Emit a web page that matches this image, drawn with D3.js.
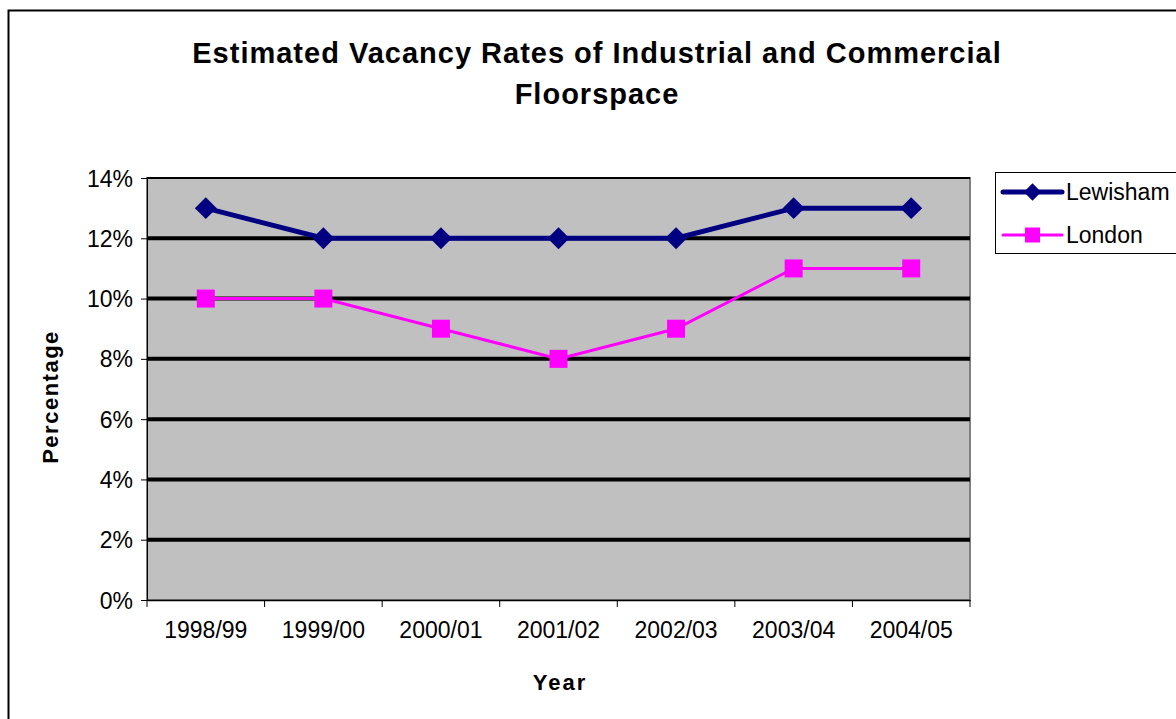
<!DOCTYPE html>
<html>
<head>
<meta charset="utf-8">
<script src="https://d3js.org/d3.v7.min.js"></script>
<style>
  body { margin: 0; background: #fff; }
  svg { display: block; font-family: "Liberation Sans", Arial, sans-serif; }
</style>
</head>
<body>
<script>
//Chart data.
var years = ["1998/99", "1999/00", "2000/01", "2001/02", "2002/03", "2003/04", "2004/05"];
var lewisham = [0.13, 0.12, 0.12, 0.12, 0.12, 0.13, 0.13];
var london = [0.10, 0.10, 0.09, 0.08, 0.09, 0.11, 0.11];
var yTicks = [0, 0.02, 0.04, 0.06, 0.08, 0.10, 0.12, 0.14];
var seriesNames = ["Lewisham", "London"];

var width = 1176, height = 719;
var svg = d3.select("body").append("svg").attr("width", width).attr("height", height);

//Outer chart border (runs off the right and bottom edges).
svg.append("rect").attr("x", 8.5).attr("y", 10.5).attr("width", 1190).attr("height", 730)
   .attr("fill", "#fff").attr("stroke", "#000").attr("stroke-width", 2);

//Plot area.
var plotLeft = 147, plotRight = 970, plotTop = 178, plotBottom = 600;
var x = d3.scaleBand().domain(years).range([plotLeft, plotRight]);
var y = d3.scaleLinear().domain([0, 0.14]).range([plotBottom, plotTop]);

svg.append("rect").attr("x", plotLeft).attr("y", plotTop)
   .attr("width", plotRight - plotLeft).attr("height", plotBottom - plotTop)
   .attr("fill", "#c0c0c0").attr("stroke", "#808080").attr("stroke-width", 2);

//Gridlines.
svg.selectAll(".grid").data(yTicks.filter(function(d) { return d > 0; })).enter()
   .append("line").attr("class", "grid")
   .attr("x1", plotLeft).attr("x2", plotRight)
   .attr("y1", function(d) { return y(d); }).attr("y2", function(d) { return y(d); })
   .attr("stroke", "#000").attr("stroke-width", function(d) { return d === 0.14 ? 2 : 4; });

//Axes.
var yAxis = d3.axisLeft(y).tickValues(yTicks).tickFormat(d3.format(".0%")).tickSize(6).tickPadding(8);
var gy = svg.append("g").attr("transform", "translate(" + plotLeft + ",0)").call(yAxis);
gy.select(".domain").attr("stroke", "#000");
gy.selectAll("text").attr("font-size", 23).attr("fill", "#000").attr("dy", "0.35em");

var xAxis = d3.axisBottom(x).tickSize(0).tickPadding(22);
var gx = svg.append("g").attr("transform", "translate(0," + plotBottom + ")").call(xAxis);
gx.select(".domain").attr("stroke", "#000").attr("stroke-width", 1.5);
gx.selectAll("text").attr("font-size", 23).attr("fill", "#000");

//Tick marks between categories.
var boundaries = years.map(function(d) { return x(d); }).concat([plotRight]);
svg.selectAll(".xtick").data(boundaries).enter().append("line")
   .attr("x1", function(d) { return d; }).attr("x2", function(d) { return d; })
   .attr("y1", plotBottom).attr("y2", plotBottom + 7).attr("stroke", "#000");

//Axis titles.
svg.append("text").attr("x", 560).attr("y", 690).attr("text-anchor", "middle")
   .attr("font-size", 22).attr("font-weight", "bold").attr("letter-spacing", 2).text("Year");
svg.append("text").attr("transform", "translate(58,397) rotate(-90)").attr("text-anchor", "middle")
   .attr("font-size", 22).attr("font-weight", "bold").attr("letter-spacing", 1.5).text("Percentage");

//Title.
var title = svg.append("text").attr("text-anchor", "middle").attr("font-size", 29)
   .attr("font-weight", "bold").attr("letter-spacing", 1);
title.append("tspan").attr("x", 597).attr("y", 63).text("Estimated Vacancy Rates of Industrial and Commercial");
title.append("tspan").attr("x", 597).attr("y", 104).text("Floorspace");

//Lines.
var cx = function(d, i) { return x(years[i]) + x.bandwidth() / 2; };
var line = d3.line().x(cx).y(function(d) { return y(d); });

svg.append("path").datum(london).attr("d", line).attr("fill", "none")
   .attr("stroke", "#ff00ff").attr("stroke-width", 3);
svg.append("path").datum(lewisham).attr("d", line).attr("fill", "none")
   .attr("stroke", "#000080").attr("stroke-width", 5);

//Markers.
var diamond = d3.symbol().type(d3.symbolSquare).size(240);
svg.selectAll(".lw").data(lewisham).enter().append("path")
   .attr("d", diamond)
   .attr("transform", function(d, i) { return "translate(" + cx(d, i) + "," + y(d) + ") rotate(45)"; })
   .attr("fill", "#000080");
svg.selectAll(".ln").data(london).enter().append("rect")
   .attr("x", function(d, i) { return cx(d, i) - 9; }).attr("y", function(d) { return y(d) - 9; })
   .attr("width", 18).attr("height", 18).attr("fill", "#ff00ff");

//Legend.
var lg = svg.append("g").attr("transform", "translate(995,172)");
lg.append("rect").attr("x", 0.5).attr("y", 0.5).attr("width", 200).attr("height", 81)
  .attr("fill", "#fff").attr("stroke", "#000").attr("stroke-width", 1);
var colors = ["#000080", "#ff00ff"];
seriesNames.forEach(function(name, i) {
  var ly = 20 + i * 43;
  lg.append("line").attr("x1", 8).attr("x2", 67).attr("y1", ly).attr("y2", ly)
    .attr("stroke", colors[i]).attr("stroke-width", i === 0 ? 5 : 3).attr("stroke-linecap", "round");
  if (i === 0) {
    lg.append("path").attr("d", d3.symbol().type(d3.symbolSquare).size(150))
      .attr("transform", "translate(37.5," + ly + ") rotate(45)").attr("fill", colors[i]);
  } else {
    lg.append("rect").attr("x", 30).attr("y", ly - 7.5).attr("width", 15).attr("height", 15).attr("fill", colors[i]);
  }
  lg.append("text").attr("x", 71).attr("y", ly + 8).attr("font-size", 23).text(name);
});
</script>
</body>
</html>
